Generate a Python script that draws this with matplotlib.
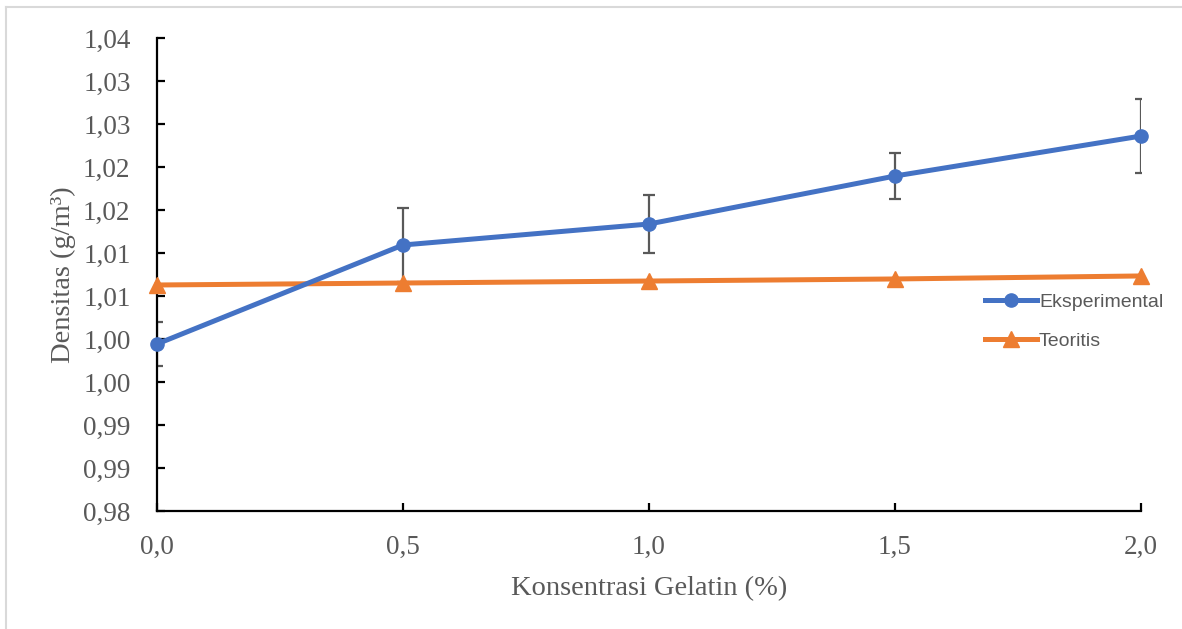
from decimal import Decimal, ROUND_HALF_UP

import numpy as np
import matplotlib
matplotlib.use("Agg")
import matplotlib.pyplot as plt
from matplotlib.lines import Line2D
from matplotlib.ticker import FuncFormatter

# konsentrasi gelatin (%)
konsentrasi = [0.0, 0.5, 1.0, 1.5, 2.0]

# densitas hasil pengukuran dan simpangan
densitas_eksp = [0.99942, 1.01093, 1.01337, 1.01895, 1.02360]
sd_eksp = [0.0026, 0.0043, 0.0034, 0.0027, 0.0043]

# densitas teoritis
densitas_teori = [1.00628, 1.00651, 1.00674, 1.00698, 1.00733]

y_ticks = [0.980, 0.985, 0.990, 0.995, 1.000, 1.005, 1.010,
           1.015, 1.020, 1.025, 1.030, 1.035]
x_ticks = [0.0, 0.5, 1.0, 1.5, 2.0]

BIRU = "#4472C4"
ORANYE = "#ED7D31"
ABU = "#595959"


def koma(v, digit):
    # pembulatan ke atas seperti excel, desimal pakai koma
    q = Decimal(1).scaleb(-digit)
    d = Decimal(str(round(float(v), 6))).quantize(q, rounding=ROUND_HALF_UP)
    return str(d).replace(".", ",")


fig = plt.figure(figsize=(11.82, 6.29), dpi=100)
ax = fig.add_axes([0.1328, 0.1876, 0.8325, 0.752])

ax.errorbar(konsentrasi, densitas_eksp, yerr=sd_eksp, fmt="none",
            ecolor=ABU, elinewidth=1.6, capsize=4, capthick=1.6, zorder=2)
l1, = ax.plot(konsentrasi, densitas_eksp, color=BIRU, lw=3.6, marker="o",
              ms=9.5, label="Eksperimental", clip_on=False, zorder=4)
l2, = ax.plot(konsentrasi, densitas_teori, color=ORANYE, lw=3.6, marker="^",
              ms=12, label="Teoritis", clip_on=False, zorder=3)

ax.set_xlim(0, 2)
ax.set_ylim(0.98, 1.035)
ax.set_xticks(x_ticks)
ax.set_yticks(y_ticks)
ax.xaxis.set_major_formatter(FuncFormatter(lambda v, p: koma(v, 1)))
ax.yaxis.set_major_formatter(FuncFormatter(lambda v, p: koma(v, 2)))

for s in ["top", "right"]:
    ax.spines[s].set_visible(False)
for s in ["left", "bottom"]:
    ax.spines[s].set_linewidth(1.6)
    ax.spines[s].set_color("black")

serif = ["Liberation Serif", "DejaVu Serif"]
ax.tick_params(axis="both", direction="in", length=6, width=1.6,
               color="black", labelcolor=ABU, labelsize=19.5)
ax.tick_params(axis="y", pad=19)
ax.tick_params(axis="x", pad=17)
for t in ax.get_xticklabels() + ax.get_yticklabels():
    t.set_family(serif)

ax.set_xlabel("Konsentrasi Gelatin (%)", family=serif, fontsize=20.5,
              color=ABU, labelpad=12)
ax.set_ylabel("Densitas (g/m³)", family=serif, fontsize=20.5,
              color=ABU, labelpad=5)

leg = ax.legend(handles=[l1, l2], loc="center left",
                bbox_to_anchor=(0.833, 0.489), bbox_transform=fig.transFigure,
                frameon=False, borderpad=0, borderaxespad=0,
                handlelength=2.7, handletextpad=0.1, labelspacing=1.1,
                prop={"family": ["Liberation Sans"], "size": 14})
for t in leg.get_texts():
    t.set_color(ABU)

# garis tepi bingkai
fig.add_artist(Line2D([6 / 1182, 6 / 1182], [0, 1 - 7 / 629],
                      transform=fig.transFigure, color="#D9D9D9", lw=1.5))
fig.add_artist(Line2D([6 / 1182, 1], [1 - 7 / 629, 1 - 7 / 629],
                      transform=fig.transFigure, color="#D9D9D9", lw=1.5))

fig.savefig("out.png", dpi=100)
